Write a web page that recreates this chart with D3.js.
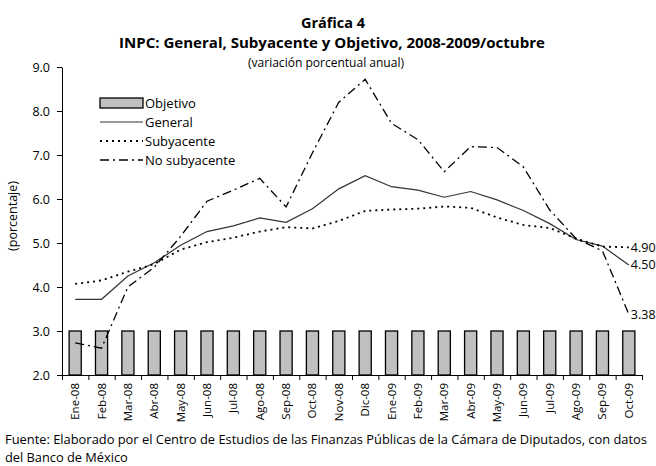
<!DOCTYPE html>
<html>
<head>
<meta charset="utf-8">
<script src="https://cdn.jsdelivr.net/npm/d3@7"></script>
<style>
  body { margin: 0; background: #fff; }
  text { font-family: "Open Sans", sans-serif; fill: #000; }
</style>
</head>
<body>
<div id="chart"></div>
<script>
var months = ["Ene-08","Feb-08","Mar-08","Abr-08","May-08","Jun-08","Jul-08","Ago-08","Sep-08","Oct-08","Nov-08","Dic-08",
  "Ene-09","Feb-09","Mar-09","Abr-09","May-09","Jun-09","Jul-09","Ago-09","Sep-09","Oct-09"]

var general = [3.72,3.72,4.25,4.55,4.95,5.26,5.39,5.57,5.47,5.78,6.23,6.53,6.28,6.20,6.04,6.17,5.98,5.74,5.44,5.08,4.93,4.50]
var subyacente = [4.07,4.15,4.35,4.52,4.85,5.02,5.12,5.26,5.36,5.33,5.50,5.73,5.76,5.78,5.83,5.80,5.58,5.41,5.34,5.10,4.92,4.90]
var noSubyacente = [2.73,2.61,4.00,4.45,5.15,5.95,6.20,6.47,5.82,7.05,8.20,8.72,7.72,7.35,6.62,7.19,7.17,6.73,5.75,5.10,4.82,3.38]
var objetivo = [3,3,3,3,3,3,3,3,3,3,3,3,3,3,3,3,3,3,3,3,3,3]

var yTicks = [2,3,4,5,6,7,8,9]
var endLabels = ["4.90","4.50","3.38"]

var W = 656, H = 466
var margin = { left: 62, right: 14, top: 67, bottom: 91 }

var svg = d3.select("#chart").append("svg")
  .attr("width", W)
  .attr("height", H)

var x = d3.scaleLinear().domain([0, months.length]).range([margin.left, W - margin.right])
var y = d3.scaleLinear().domain([2, 9]).range([H - margin.bottom, margin.top])
var bw = x(1) - x(0)
var cx = function(i) { return x(i + 0.5) }

// titles
svg.append("text").attr("x", 333).attr("y", 28).attr("text-anchor", "middle")
  .style("font-weight", "bold").style("font-size", "14.5px")
  .attr("textLength", 64).attr("lengthAdjust", "spacingAndGlyphs")
  .text("Gráfica 4")
svg.append("text").attr("x", 332).attr("y", 48).attr("text-anchor", "middle")
  .style("font-weight", "bold").style("font-size", "14.5px")
  .attr("textLength", 426).attr("lengthAdjust", "spacingAndGlyphs")
  .text("INPC: General, Subyacente y Objetivo, 2008-2009/octubre")
svg.append("text").attr("x", 326).attr("y", 67).attr("text-anchor", "middle")
  .style("font-size", "12px")
  .attr("textLength", 156).attr("lengthAdjust", "spacingAndGlyphs")
  .text("(variación porcentual anual)")

// bars (objetivo)
svg.selectAll("rect.obj")
  .data(objetivo)
  .enter()
  .append("rect")
  .attr("class", "obj")
  .attr("x", function(d, i) { return cx(i) - bw * 0.23 })
  .attr("width", bw * 0.46)
  .attr("y", function(d) { return y(d) })
  .attr("height", function(d) { return y(2) - y(d) })
  .style("fill", "#c0c0c0")
  .style("stroke", "#000")
  .style("stroke-width", 1.3)

// axes
var yAxis = svg.append("g")
  .attr("transform", "translate(" + margin.left + ",0)")
  .call(d3.axisLeft(y).tickValues(yTicks).tickSize(5).tickSizeOuter(0).tickFormat(d3.format(".1f")))
yAxis.selectAll("text").style("font-size", "12.5px").attr("dx", "-4")

var xAxis = svg.append("g")
  .attr("transform", "translate(0," + y(2) + ")")
  .call(d3.axisBottom(x).tickValues(d3.range(months.length + 1)).tickSize(5).tickSizeOuter(0).tickFormat(""))

svg.selectAll(".domain").style("stroke", "#000")
svg.selectAll(".tick line").style("stroke", "#000")

svg.selectAll("text.xlab")
  .data(months)
  .enter()
  .append("text")
  .attr("class", "xlab")
  .attr("transform", function(d, i) { return "translate(" + cx(i) + "," + (y(2) + 8) + ") rotate(-90)" })
  .attr("text-anchor", "end")
  .attr("dy", "0.35em")
  .style("font-size", "11.5px")
  .text(function(d) { return d })

svg.append("text")
  .attr("transform", "translate(13," + 216 + ") rotate(-90)")
  .attr("text-anchor", "middle")
  .attr("dy", "0.35em")
  .style("font-size", "12.5px")
  .text("(porcentaje)")

// lines
var line = d3.line().x(function(d, i) { return cx(i) }).y(function(d) { return y(d) })

var series = [
  { name: "General", values: general, color: "#333", dash: null, width: 1.2 },
  { name: "Subyacente", values: subyacente, color: "#000", dash: "2,4", width: 1.8 },
  { name: "No subyacente", values: noSubyacente, color: "#000", dash: "9,4,2,4", width: 1.3 }
]

series.forEach(function(s) {
  svg.append("path")
    .datum(s.values)
    .attr("d", line)
    .style("fill", "none")
    .style("stroke", s.color)
    .style("stroke-width", s.width)
    .style("stroke-dasharray", s.dash)
})

// end labels
var lastIdx = months.length - 1
var labelSeries = [subyacente, general, noSubyacente]
labelSeries.forEach(function(vals, k) {
  svg.append("text")
    .attr("x", cx(lastIdx) + 2)
    .attr("y", y(vals[lastIdx]))
    .attr("dy", "0.35em")
    .style("font-size", "12.5px")
    .text(endLabels[k])
})

// legend
var lg = svg.append("g").attr("transform", "translate(100,103)")
lg.append("rect").attr("x", 0).attr("y", -5).attr("width", 43).attr("height", 10)
  .style("fill", "#c0c0c0").style("stroke", "#000").style("stroke-width", 1.3)
lg.append("text").attr("x", 45).attr("y", 0).attr("dy", "0.35em").style("font-size", "13px").text("Objetivo")
series.forEach(function(s, i) {
  var yy = 19 * (i + 1)
  lg.append("line").attr("x1", 0).attr("x2", 43).attr("y1", yy).attr("y2", yy)
    .style("stroke", s.color).style("stroke-width", s.width).style("stroke-dasharray", s.dash)
  lg.append("text").attr("x", 45).attr("y", yy).attr("dy", "0.35em").style("font-size", "13px").text(s.name)
})

// source
svg.append("text").attr("x", 5).attr("y", 444).style("font-size", "12.8px")
  .attr("textLength", 642).attr("lengthAdjust", "spacingAndGlyphs")
  .text("Fuente: Elaborado por el Centro de Estudios de las Finanzas Públicas de la Cámara de Diputados, con datos")
svg.append("text").attr("x", 5).attr("y", 462).style("font-size", "12.8px")
  .text("del Banco de México")
</script>
</body>
</html>
